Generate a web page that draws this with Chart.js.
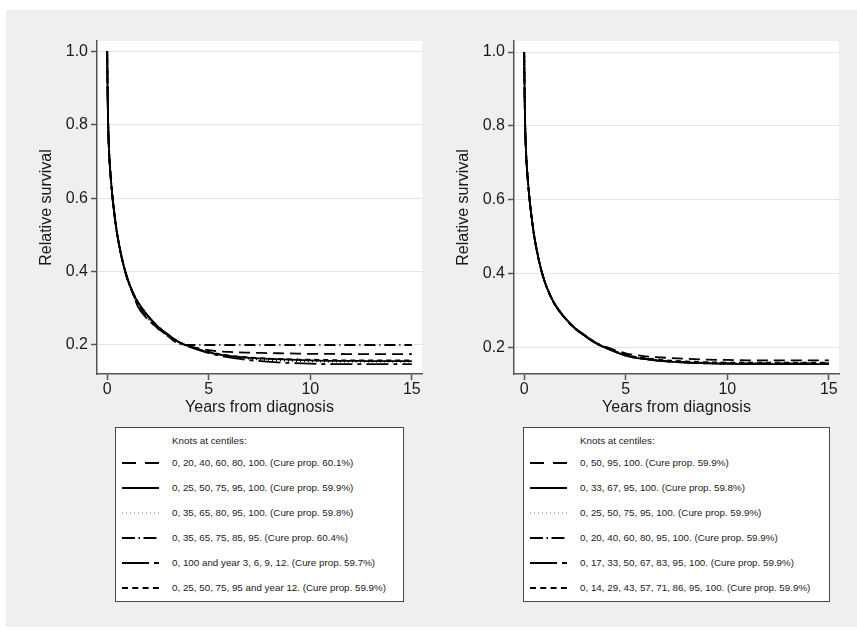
<!DOCTYPE html>
<html>
<head>
<meta charset="utf-8">
<script src="https://cdn.jsdelivr.net/npm/chart.js@4.4.1/dist/chart.umd.min.js"></script>
<style>
    body { margin: 0; background: #fff; width: 857px; height: 630px; position: relative; overflow: hidden;
           font-family: "Liberation Sans", Arial, Helvetica, sans-serif; }
    #bg { position: absolute; left: 6px; top: 10px; width: 851px; height: 617px; background: #efefef; }
    canvas { position: absolute; }
    .legend { position: absolute; top: 427px; height: 175px; background: #fff; border: 1px solid #4a4a4a;
              box-sizing: border-box; font-size: 9.8px; color: #1a1a1a; }
    .legend .row { position: absolute; left: 0; right: 0; height: 14px; }
    .legend svg { position: absolute; left: 6px; top: 0; }
    .legend span { position: absolute; left: 56px; top: 0; line-height: 14px; white-space: nowrap; }
</style>
</head>
<body>
<div id="bg"></div>
<canvas id="chart-left" width="397" height="411" style="left:33px;top:10px"></canvas>
<canvas id="chart-right" width="397" height="411" style="left:450px;top:10px"></canvas>
<div class="legend" id="legend-left" style="left:115px;width:289px"></div>
<div class="legend" id="legend-right" style="left:523px;width:307px"></div>

<script>
const YEARS = [0, 0.02, 0.05, 0.1, 0.15, 0.25, 0.35, 0.5, 0.75, 1, 1.25, 1.5, 2, 2.5, 3, 3.5, 4, 5, 6, 7, 8, 9, 10, 11, 12, 13, 14, 15];

const X_TICKS = [0, 5, 10, 15];
const Y_TICKS = [0.2, 0.4, 0.6, 0.8, 1.0];

// Left panel
const LEFT_LABELS = [
    '0, 20, 40, 60, 80, 100. (Cure prop. 60.1%)',
    '0, 25, 50, 75, 95, 100. (Cure prop. 59.9%)',
    '0, 35, 65, 80, 95, 100. (Cure prop. 59.8%)',
    '0, 35, 65, 75, 85, 95. (Cure prop. 60.4%)',
    '0, 100 and year 3, 6, 9, 12. (Cure prop. 59.7%)',
    '0, 25, 50, 75, 95 and year 12. (Cure prop. 59.9%)',
];
const LEFT_1 = [1.0, 0.90, 0.80, 0.72, 0.675, 0.61, 0.56, 0.50, 0.43, 0.38, 0.345, 0.318, 0.279, 0.250, 0.228, 0.209, 0.198, 0.186, 0.181, 0.179, 0.178, 0.177, 0.176, 0.176, 0.175, 0.175, 0.175, 0.175];
const LEFT_2 = [1.0, 0.90, 0.80, 0.72, 0.675, 0.61, 0.56, 0.50, 0.43, 0.38, 0.345, 0.318, 0.280, 0.250, 0.228, 0.209, 0.197, 0.180, 0.170, 0.165, 0.162, 0.160, 0.158, 0.157, 0.157, 0.156, 0.156, 0.156];
const LEFT_3 = [1.0, 0.91, 0.81, 0.725, 0.68, 0.612, 0.562, 0.502, 0.432, 0.381, 0.346, 0.318, 0.279, 0.249, 0.227, 0.209, 0.197, 0.180, 0.169, 0.163, 0.159, 0.157, 0.156, 0.155, 0.155, 0.155, 0.155, 0.155];
const LEFT_4 = [1.0, 0.89, 0.79, 0.715, 0.67, 0.607, 0.557, 0.498, 0.428, 0.378, 0.342, 0.312, 0.272, 0.245, 0.224, 0.204, 0.200, 0.200, 0.200, 0.200, 0.200, 0.200, 0.200, 0.200, 0.200, 0.200, 0.200, 0.200];
const LEFT_5 = [1.0, 0.90, 0.80, 0.72, 0.675, 0.61, 0.56, 0.50, 0.431, 0.381, 0.344, 0.306, 0.270, 0.245, 0.226, 0.208, 0.196, 0.178, 0.166, 0.159, 0.154, 0.151, 0.149, 0.148, 0.148, 0.148, 0.148, 0.148];
const LEFT_6 = [1.0, 0.90, 0.80, 0.72, 0.675, 0.61, 0.56, 0.50, 0.43, 0.38, 0.345, 0.318, 0.280, 0.250, 0.228, 0.209, 0.197, 0.181, 0.171, 0.166, 0.163, 0.161, 0.160, 0.159, 0.158, 0.158, 0.158, 0.158];

// Right panel
const RIGHT_LABELS = [
    '0, 50, 95, 100. (Cure prop. 59.9%)',
    '0, 33, 67, 95, 100. (Cure prop. 59.8%)',
    '0, 25, 50, 75, 95, 100. (Cure prop. 59.9%)',
    '0, 20, 40, 60, 80, 95, 100. (Cure prop. 59.9%)',
    '0, 17, 33, 50, 67, 83, 95, 100. (Cure prop. 59.9%)',
    '0, 14, 29, 43, 57, 71, 86, 95, 100. (Cure prop. 59.9%)',
];
const RIGHT_1 = [1.0, 0.90, 0.80, 0.72, 0.675, 0.61, 0.56, 0.50, 0.43, 0.38, 0.345, 0.318, 0.281, 0.253, 0.233, 0.214, 0.202, 0.184, 0.176, 0.172, 0.169, 0.167, 0.166, 0.165, 0.165, 0.165, 0.165, 0.165];
const RIGHT_2 = [1.0, 0.90, 0.80, 0.72, 0.675, 0.61, 0.56, 0.50, 0.43, 0.38, 0.345, 0.318, 0.280, 0.252, 0.231, 0.212, 0.199, 0.178, 0.168, 0.162, 0.159, 0.157, 0.156, 0.155, 0.155, 0.155, 0.155, 0.155];
const RIGHT_3 = [1.0, 0.91, 0.81, 0.725, 0.68, 0.612, 0.562, 0.502, 0.432, 0.381, 0.346, 0.319, 0.281, 0.252, 0.231, 0.212, 0.199, 0.178, 0.168, 0.162, 0.159, 0.157, 0.156, 0.156, 0.156, 0.156, 0.156, 0.156];
const RIGHT_4 = [1.0, 0.90, 0.80, 0.72, 0.675, 0.61, 0.56, 0.50, 0.43, 0.38, 0.345, 0.318, 0.280, 0.252, 0.232, 0.213, 0.200, 0.179, 0.169, 0.163, 0.160, 0.158, 0.157, 0.157, 0.157, 0.157, 0.157, 0.157];
const RIGHT_5 = [1.0, 0.89, 0.79, 0.715, 0.672, 0.608, 0.558, 0.499, 0.429, 0.379, 0.344, 0.317, 0.279, 0.251, 0.231, 0.212, 0.199, 0.178, 0.168, 0.162, 0.159, 0.157, 0.156, 0.156, 0.156, 0.156, 0.156, 0.156];
const RIGHT_6 = [1.0, 0.90, 0.80, 0.72, 0.675, 0.61, 0.56, 0.50, 0.43, 0.38, 0.345, 0.318, 0.280, 0.252, 0.232, 0.213, 0.200, 0.180, 0.171, 0.165, 0.162, 0.160, 0.159, 0.159, 0.159, 0.159, 0.159, 0.159];

// Line patterns, same order as the legend rows (plot, then legend sample)
const DASHES = [[11, 6], [], [1, 3], [11, 4, 1, 4], [22, 5, 4, 5], [5, 4]];
const KEY_DASHES = [[14, 9], [], [1, 3], [13, 3.5, 1.5, 3.5], [27, 5, 5, 50], [6, 4.3]];

const FONT = '"Liberation Sans", Arial, Helvetica, sans-serif';
const AXIS = '#555555';
const TEXT = '#1a1a1a';

const plotBg = {
    id: 'plotBg',
    beforeDraw(chart) {
        const { ctx, chartArea: a } = chart;
        ctx.save();
        ctx.fillStyle = '#ffffff';
        ctx.fillRect(a.left, a.top, a.right - a.left, a.bottom - a.top);
        ctx.restore();
    }
};

function toPoints(values) {
    return YEARS.map((t, i) => ({ x: t, y: values[i] }));
}

function renderPanel(canvasId, curves, labels, yMin, yMax) {
    const ctx = document.getElementById(canvasId);

    new Chart(ctx, {
        type: 'line',
        data: {
            datasets: curves.map((c, i) => ({
                label: labels[i],
                data: toPoints(c),
                borderColor: '#000',
                borderWidth: i === 2 ? 2 : 1.8,
                borderDash: DASHES[i],
                pointRadius: 0,
                fill: false,
                cubicInterpolationMode: 'monotone',
            })),
        },
        options: {
            responsive: false,
            animation: false,
            layout: { padding: { top: 31, right: 8, left: 0, bottom: 0 } },
            plugins: { legend: { display: false }, tooltip: { enabled: false } },
            scales: {
                x: {
                    type: 'linear',
                    min: -0.5,
                    max: 15.5,
                    afterBuildTicks: s => { s.ticks = X_TICKS.map(v => ({ value: v })); },
                    afterFit: s => { s.height = 47; },
                    border: { color: AXIS, width: 1.5 },
                    grid: { drawOnChartArea: false, tickLength: 6, tickColor: AXIS, tickWidth: 1.5 },
                    ticks: { color: TEXT, font: { size: 16, family: FONT }, padding: 0, maxRotation: 0 },
                    title: { display: true, text: 'Years from diagnosis', color: TEXT,
                             font: { size: 16, family: FONT }, padding: { top: 0, bottom: 4 } },
                },
                y: {
                    type: 'linear',
                    min: yMin,
                    max: yMax,
                    afterBuildTicks: s => { s.ticks = Y_TICKS.map(v => ({ value: v })); },
                    afterFit: s => { s.width = 64; },
                    border: { color: AXIS, width: 1.5 },
                    grid: { color: '#e4e4e4', lineWidth: 1, tickLength: 6, tickColor: AXIS, tickWidth: 1.5 },
                    ticks: { color: TEXT, font: { size: 16, family: FONT }, padding: 3,
                             callback: v => v.toFixed(1) },
                    title: { display: true, text: 'Relative survival', color: TEXT,
                             font: { size: 16, family: FONT }, padding: { top: 4, bottom: 0 } },
                },
            },
        },
        plugins: [plotBg],
    });
}

function renderLegend(boxId, labels) {
    const box = document.getElementById(boxId);
    const rowCenters = [35, 60, 85, 110, 135, 160];
    let html = `<div class="row" style="top:6px"><span>Knots at centiles:</span></div>`;
    labels.forEach((label, i) => {
        const dotted = i === 2;
        const dash = KEY_DASHES[i].length ? `stroke-dasharray="${KEY_DASHES[i].join(' ')}"` : '';
        html += `
        <div class="row" style="top:${rowCenters[i] - 7}px">
            <svg width="38" height="14"><line x1="0" y1="7" x2="37" y2="7"
                 stroke="${dotted ? '#777' : '#000'}" stroke-width="${dotted ? 1 : 2}" ${dash}/></svg>
            <span>${label}</span>
        </div>`;
    });
    box.innerHTML = html;
}

renderPanel('chart-left', [LEFT_1, LEFT_2, LEFT_3, LEFT_4, LEFT_5, LEFT_6], LEFT_LABELS, 0.121, 1.028);
renderPanel('chart-right', [RIGHT_1, RIGHT_2, RIGHT_3, RIGHT_4, RIGHT_5, RIGHT_6], RIGHT_LABELS, 0.128, 1.030);
renderLegend('legend-left', LEFT_LABELS);
renderLegend('legend-right', RIGHT_LABELS);
</script>
</body>
</html>
